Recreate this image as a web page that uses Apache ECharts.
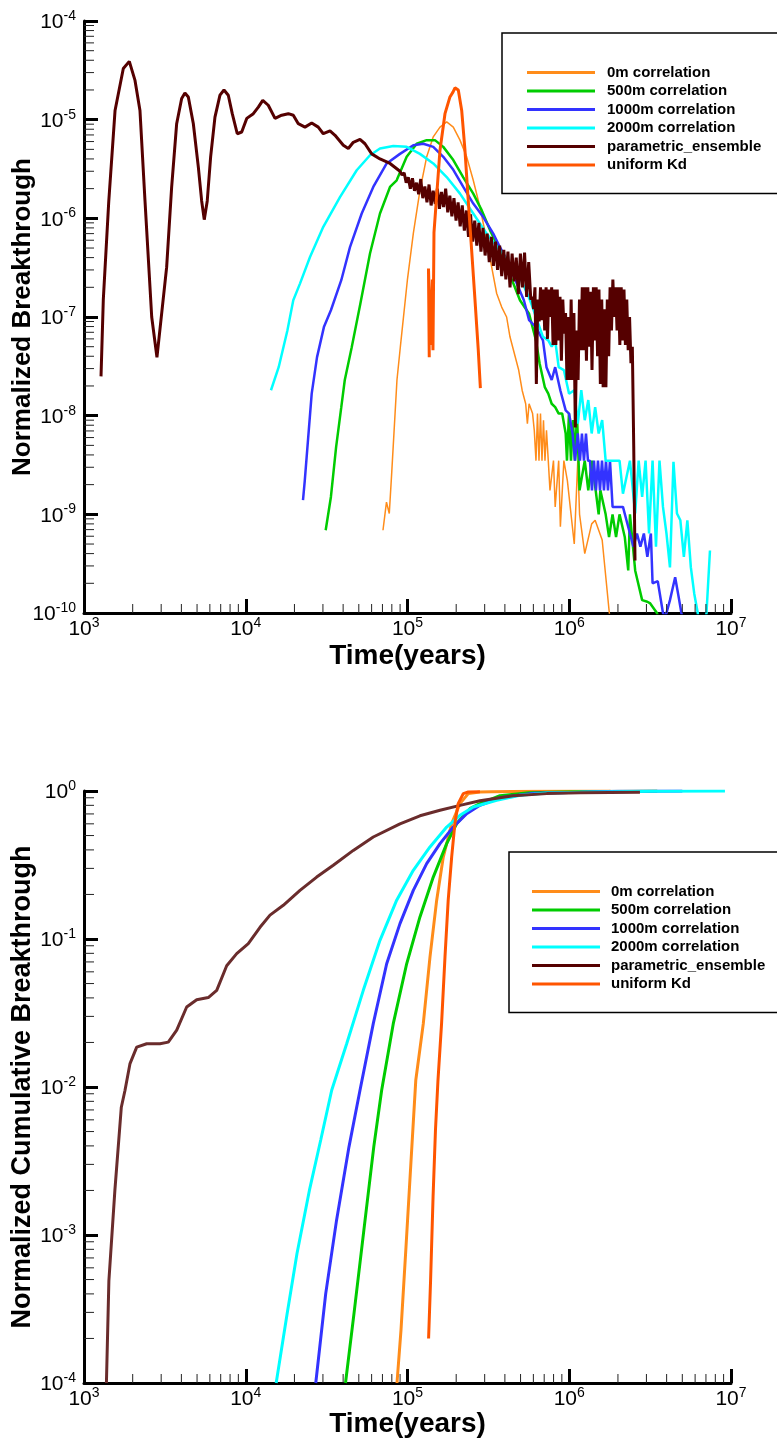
<!DOCTYPE html>
<html><head><meta charset="utf-8">
<script src="https://cdn.jsdelivr.net/npm/echarts@6/dist/echarts.min.js"></script>
<style>html,body{margin:0;padding:0;background:#fff}#c{width:777px;height:1439px}</style>
</head><body><div id="c"></div>
<script>
// ---------- names, colours, ticks ----------
const seriesNames = ['0m correlation','500m correlation','1000m correlation','2000m correlation','parametric_ensemble','uniform Kd'];
const seriesColors = ['#ff8c1a','#00cc00','#3333ff','#00ffff','#550000','#ff5500'];
const xDecades = [3,4,5,6,7];
const topYDecades = [-10,-9,-8,-7,-6,-5,-4];
const botYDecades = [-4,-3,-2,-1,0];
const xTitle = 'Time(years)';
const topYTitle = 'Normalized Breakthrough';
const botYTitle = 'Normalized Cumulative Breakthrough';

// ---------- top panel: breakthrough ----------
const top0m = [[70540,6.9e-10],[74130,1.33e-9],[77150,1.02e-9],[79840,2.6e-9],[86070,2.3e-8],[90340,5.0e-8],[99810,2.36e-7],[108600,7.0e-7],[119400,1.92e-6],[131400,4.2e-6],[144300,6.7e-6],[158800,8.4e-6],[174700,9.5e-6],[191900,8.4e-6],[211100,6.2e-6],[232200,4.2e-6],[255000,2.43e-6],[280500,1.3e-6],[308700,6.0e-7],[331500,3.2e-7],[355900,1.73e-7],[382200,1.26e-7],[410000,1.0e-7],[430000,6.3e-8],[486800,2.9e-8],[511700,1.8e-8],[537800,1.32e-8],[551000,8.3e-9],[564500,1.32e-8],[593300,1.05e-8],[607900,7.1e-9],[622800,3.5e-9],[636300,1.05e-8],[650000,3.5e-9],[664000,1.05e-8],[678400,3.5e-9],[693000,9.0e-9],[707800,3.5e-9],[723200,7.1e-9],[741900,3.5e-9],[760100,1.75e-9],[798900,3.5e-9],[818500,1.19e-9],[860300,3.5e-9],[881300,7.5e-10],[926300,3.5e-9],[973600,2.2e-9],[1074000,5.0e-10],[1129000,3.5e-9],[1158000,1.0e-9],[1247000,4.0e-10],[1376000,8.0e-10],[1446000,8.7e-10],[1598000,5.5e-10],[1763000,1.06e-10],[1850000,5e-11]];

const top500m = [[31200,6.9e-10],[33610,1.5e-9],[36190,4.8e-9],[38960,1.22e-8],[40950,2.3e-8],[45170,4.9e-8],[51140,1.37e-7],[58630,4.4e-7],[67580,1.12e-6],[77950,2.08e-6],[85730,2.43e-6],[98830,4.2e-6],[114000,5.7e-6],[131400,6.2e-6],[147800,6.2e-6],[166400,5.3e-6],[191900,3.9e-6],[221200,2.6e-6],[255000,1.78e-6],[287400,1.21e-6],[323600,7.6e-7],[364100,5.1e-7],[410400,3.2e-7],[450800,2.2e-7],[495900,1.48e-7],[564500,1.08e-7],[622800,5.8e-8],[655500,3.4e-8],[706000,1.95e-8],[741900,1.67e-8],[778700,1.32e-8],[818500,1.22e-8],[860300,1.05e-8],[904200,1.05e-8],[950400,6.6e-9],[968000,3.5e-9],[996000,1.05e-8],[1025000,3.5e-9],[1054000,9.0e-9],[1085000,3.5e-9],[1116000,1.05e-8],[1158000,1.75e-9],[1247000,3.5e-9],[1311000,1.75e-9],[1382000,3.5e-9],[1520000,1.0e-9],[1557000,1.75e-9],[1679000,1.0e-9],[1762000,5.9e-10],[1852000,1.0e-9],[1947000,5.9e-10],[2046000,1.0e-9],[2204000,5.9e-10],[2316000,2.7e-10],[2373000,1.0e-9],[2556000,2.7e-10],[2823000,1.35e-10],[3040000,1.3e-10],[3168000,1.25e-10],[3485000,1.0e-10],[3600000,8e-11]];

const top1000m = [[22590,1.39e-9],[23170,2.2e-9],[25570,1.67e-8],[27570,3.9e-8],[30420,7.9e-8],[33610,1.17e-7],[38960,2.36e-7],[44100,5.1e-7],[52110,1.12e-6],[61430,2.08e-6],[74350,3.6e-6],[89840,4.5e-6],[108600,5.5e-6],[125200,5.7e-6],[144300,5.3e-6],[166400,4.2e-6],[191900,3.1e-6],[221200,2.08e-6],[255000,1.41e-6],[294000,1.03e-6],[339000,7.0e-7],[373000,5.1e-7],[410400,3.8e-7],[450800,2.65e-7],[524200,1.48e-7],[564500,9.3e-8],[622800,7.9e-8],[688000,5.8e-8],[723200,3.1e-8],[778700,2.3e-8],[818500,3.1e-8],[881300,1.8e-8],[950400,1.13e-8],[997400,1.05e-8],[1048000,6.6e-9],[1085000,3.5e-9],[1129000,6.6e-9],[1165000,3.5e-9],[1198000,6.6e-9],[1233000,3.5e-9],[1269000,6.6e-9],[1305000,3.5e-9],[1343000,3.5e-9],[1382000,1.75e-9],[1422000,3.5e-9],[1463000,1.75e-9],[1505000,3.5e-9],[1549000,1.75e-9],[1594000,3.5e-9],[1639000,1.75e-9],[1687000,3.5e-9],[1735000,1.75e-9],[1786000,3.5e-9],[1853000,1.19e-9],[1972000,1.19e-9],[2148000,1.19e-9],[2373000,6.4e-10],[2494000,4.7e-10],[2622000,6.4e-10],[2753000,4.7e-10],[2893000,6.4e-10],[3040000,3.7e-10],[3196000,6.4e-10],[3274000,2.0e-10],[3526000,2.1e-10],[3797000,1.0e-10],[3923000,9e-11],[4194000,1.35e-10],[4516000,2.3e-10],[4747000,1.45e-10],[4991000,9e-11]];

const top2000m = [[14320,1.81e-8],[15980,3.1e-8],[18090,7.3e-8],[19670,1.48e-7],[21640,2.18e-7],[24960,4.06e-7],[30160,8.2e-7],[38240,1.64e-6],[48520,3.07e-6],[58630,4.36e-6],[67580,5.1e-6],[81690,5.4e-6],[98830,5.3e-6],[119400,4.5e-6],[144300,3.6e-6],[174700,2.62e-6],[211100,1.78e-6],[255000,1.12e-6],[308700,7.0e-7],[373000,4.74e-7],[430000,3.48e-7],[495900,2.54e-7],[571900,1.48e-7],[688000,6.3e-8],[741900,5.8e-8],[778700,5.0e-8],[818500,5.8e-8],[860300,3.1e-8],[926300,2.9e-8],[997400,1.67e-8],[1074000,1.81e-8],[1129000,8.3e-9],[1187000,1.81e-8],[1247000,9.0e-9],[1311000,1.44e-8],[1376000,6.6e-9],[1446000,1.22e-8],[1520000,6.6e-9],[1598000,9.0e-9],[1679000,3.5e-9],[1853000,3.5e-9],[2046000,3.5e-9],[2148000,1.62e-9],[2373000,3.5e-9],[2556000,1.02e-9],[2686000,3.5e-9],[2823000,1.5e-9],[2964000,3.5e-9],[3114000,6.4e-10],[3274000,3.5e-9],[3437000,4.7e-10],[3613000,3.5e-9],[3797000,1.19e-9],[3990000,6.4e-10],[4194000,2.9e-10],[4409000,3.4e-9],[4634000,1.02e-9],[4863000,8.7e-10],[5112000,3.7e-10],[5373000,8.7e-10],[5647000,2.9e-10],[5927000,1.57e-10],[6231000,1.0e-10],[6600000,3e-11],[7053000,1.0e-10],[7413000,4.3e-10]];

const topParam = [[1274,2.5e-8],[1316,1.48e-7],[1422,1.47e-6],[1556,1.24e-5],[1750,3.3e-5],[1906,3.9e-5],[2067,2.5e-5],[2218,1.24e-5],[2382,1.52e-6],[2622,1.0e-7],[2825,3.9e-8],[3243,3.2e-7],[3483,2.08e-6],[3740,9.1e-6],[4016,1.64e-5],[4207,1.86e-5],[4415,1.7e-5],[4742,9.1e-6],[5092,3.3e-6],[5339,1.5e-6],[5539,9.7e-7],[5780,1.5e-6],[6066,4.2e-6],[6451,1.06e-5],[6928,1.77e-5],[7336,2.0e-5],[7800,1.77e-5],[8252,1.15e-5],[8863,7.2e-6],[9441,7.5e-6],[10140,1.03e-5],[11140,1.15e-5],[11960,1.34e-5],[12740,1.57e-5],[13780,1.4e-5],[15170,1.03e-5],[16680,1.11e-5],[18330,1.15e-5],[19680,1.11e-5],[21130,9.1e-6],[23240,8.4e-6],[25570,9.25e-6],[28070,8.4e-6],[30150,7.2e-6],[33190,7.7e-6],[35640,6.95e-6],[40100,5.5e-6],[43050,5.1e-6],[46240,5.9e-6],[50840,6.3e-6],[54590,5.7e-6],[60080,4.5e-6],[67610,4.0e-6],[77960,3.6e-6],
[89840,3.0e-6],[92535,2.75e-6],[95310,2.9e-6],[98170,2.3e-6],[101110,2.6e-6],[104150,2.0e-6],[107270,2.55e-6],[110490,1.9e-6],[113800,2.3e-6],[117220,1.75e-6],[120740,2.5e-6],[124360,1.6e-6],[128090,2.1e-6],[131930,1.45e-6],[135890,2.2e-6],[139970,1.35e-6],[144170,1.9e-6],[148490,1.4e-6],[152950,2.0e-6],[157540,1.25e-6],[162260,1.85e-6],[167130,1.3e-6],[172140,2.0e-6],[177310,1.15e-6],[182630,1.7e-6],[188110,1.05e-6],[193750,1.6e-6],[199560,9.5e-7],[205550,1.45e-6],[211710,8.3e-7],[218070,1.35e-6],[224610,7.5e-7],[231350,1.2e-6],[238290,6.5e-7],[245430,1.1e-6],[252800,5.8e-7],[260380,9.5e-7],[268190,5.3e-7],[276240,9.0e-7],[284530,4.6e-7],[293060,8.0e-7],[301850,4.2e-7],[310910,7.0e-7],[320240,3.6e-7],[329840,6.5e-7],[339740,3.3e-7],[349930,5.8e-7],[360430,3.0e-7],[371240,5.3e-7],[382380,2.6e-7],[393850,4.8e-7],[405660,2.4e-7],[417830,4.6e-7],[430370,2.0e-7],[443280,4.4e-7],[456580,2.3e-7],[470280,4.0e-7],[484390,1.7e-7],[498920,4.4e-7],[513890,2.0e-7],[529300,4.5e-7],[545180,1.6e-7],[561540,3.6e-7],[578390,1.5e-7],
[590000,1.6e-7],[601800,1.2e-7],[613800,2.0e-7],[626100,2.1e-8],[638600,1.5e-7],[651400,9.0e-8],[664400,2.0e-7],[677700,9.3e-8],[691300,1.9e-7],[705100,7.3e-8],[719200,2.0e-7],[733600,6.0e-8],[748300,1.9e-7],[763200,1.0e-7],[778500,2.0e-7],[794100,5.2e-8],[810000,1.9e-7],[826200,5.2e-8],[842700,1.9e-7],[859500,5.8e-8],[876700,1.6e-7],[894300,3.6e-8],[912200,1.5e-7],[930400,6.8e-8],[949000,1.1e-7],[968000,2.3e-8],[987300,1.0e-7],[1007100,2.3e-8],[1027200,1.5e-7],[1047800,2.3e-8],[1068700,1.1e-7],[1090100,7.6e-9],[1111900,7.3e-8],[1134100,2.3e-8],[1156800,1.5e-7],[1179900,4.6e-8],[1203500,2.0e-7],[1227600,4.6e-8],[1252200,2.0e-7],[1277200,3.6e-8],[1302700,2.0e-7],[1328800,5.0e-8],[1355400,1.8e-7],[1382500,2.9e-8],[1410100,2.0e-7],[1438300,5.8e-8],[1467100,2.0e-7],[1496400,4.0e-8],[1526400,1.9e-7],[1556900,2.1e-8],[1588000,1.5e-7],[1619800,1.94e-8],[1652200,1.2e-7],[1685200,1.94e-8],[1718900,1.5e-7],[1753300,4.0e-8],[1788400,2.0e-7],[1824100,7.3e-8],[1860600,2.4e-7],[1897800,1.0e-7],[1935800,2.0e-7],[1974500,7.3e-8],[2014000,2.0e-7],[2054300,5.2e-8],[2095400,2.0e-7],[2137300,5.8e-8],[2180000,1.9e-7],[2223600,5.2e-8],[2268100,1.5e-7],[2313500,4.6e-8],[2359700,1.0e-7],[2406900,3.4e-8],[2455100,5.0e-8],[2504200,4.8e-9],[2550000,3.4e-10]];

const topUniform = [[136300,3.9e-8],[134800,3.1e-7],[138700,5.2e-8],[142500,2.4e-7],[143700,4.6e-8],[145800,7.2e-7],[158800,4.9e-6],[170500,1.15e-5],[183000,1.7e-5],[191000,1.9e-5],[196600,2.1e-5],[206100,2.0e-5],[216300,1.24e-5],[226600,4.9e-6],[237500,1.5e-6],[249300,4.7e-7],[261400,1.48e-7],[273900,4.6e-8],[282200,1.9e-8]];

// ---------- bottom panel: cumulative breakthrough ----------
const cum0m = [[86100,1.0e-4],[91130,2.27e-4],[97870,8.3e-4],[104900,3.03e-3],[112500,1.11e-2],[125200,2.68e-2],[137700,7.55e-2],[151500,0.183],[166400,0.358],[187500,0.602],[211100,0.822],[237500,0.96],[280500,0.984],[330000,0.99],[600000,0.997],[1800000,1.0]];
const cum500m = [[41370,1.0e-4],[46680,2.94e-4],[53740,1.08e-3],[61870,3.94e-3],[69220,9.5e-3],[81660,2.68e-2],[98830,6.8e-2],[119400,0.141],[144300,0.262],[174700,0.441],[201400,0.602],[243300,0.76],[280500,0.822],[373000,0.93],[560000,0.975],[1165000,0.99],[3500000,1.0]];
const cum1000m = [[27090,1.0e-4],[31200,4.0e-4],[36430,1.26e-3],[43470,3.94e-3],[50850,9.5e-3],[61430,2.68e-2],[74350,6.8e-2],[89840,0.127],[108600,0.213],[131400,0.323],[158800,0.441],[191900,0.571],[232200,0.703],[280500,0.8],[373000,0.9],[599300,0.965],[1165000,0.98],[2000000,0.995],[5000000,1.0]];
const cum2000m = [[15420,1.0e-4],[18020,2.94e-4],[20740,7.5e-4],[24740,2.0e-3],[29100,4.4e-3],[33990,9.5e-3],[42070,1.96e-2],[53290,4.5e-2],[67580,9.8e-2],[85730,0.183],[108600,0.291],[137700,0.419],[174700,0.571],[211100,0.685],[255000,0.78],[355900,0.865],[495900,0.936],[725200,0.969],[1165000,0.98],[3155000,0.995],[9175000,1.0]];
const cumParam = [[1376,1.0e-4],[1425,4.9e-4],[1552,2.0e-3],[1701,7.3e-3],[1793,9.5e-3],[1925,1.44e-2],[2118,1.86e-2],[2441,1.96e-2],[2950,1.96e-2],[3320,2.01e-2],[3743,2.42e-2],[4313,3.47e-2],[4974,3.89e-2],[5867,4.02e-2],[6613,4.5e-2],[7623,6.6e-2],[8790,7.96e-2],[10370,9.3e-2],[12250,0.12],[14120,0.145],[17060,0.169],[21640,0.213],[27450,0.262],[34760,0.315],[46220,0.397],[61430,0.489],[89840,0.6],[119400,0.68],[158800,0.741],[211100,0.8],[280500,0.86],[450800,0.93],[725200,0.96],[1165000,0.975],[2736000,0.98]];
const cumUniform = [[135000,2.0e-4],[138900,4.94e-4],[143900,1.81e-3],[148900,5.1e-3],[154300,1.11e-2],[162400,2.68e-2],[170500,7.55e-2],[178500,0.183],[187500,0.358],[196300,0.602],[205800,0.822],[221200,0.96],[237500,0.984],[280500,0.99]];

// ---------- chart ----------
const FONT = '"Liberation Sans", Arial, Helvetica, sans-serif';
const chart = echarts.init(document.getElementById('c'), null, {renderer: 'canvas'});

function expLabel(v) {
  const e = Math.round(Math.log10(v));
  return '{b|10}{s|' + e + '}';
}
const labelRich = {
  b: {fontFamily: FONT, fontSize: 21, color: '#000', lineHeight: 24, verticalAlign: 'bottom'},
  s: {fontFamily: FONT, fontSize: 14, color: '#000', verticalAlign: 'top'}
};
function nameStyle(size) { return {fontFamily: FONT, fontWeight: 'bold', fontSize: size, color: '#000'}; }

function makeXAxis(gi, nameGap) {
  return {
    type: 'log', logBase: 10, gridIndex: gi,
    min: Math.pow(10, xDecades[0]), max: Math.pow(10, xDecades[xDecades.length - 1]),
    splitNumber: xDecades.length - 1,
    axisLine: {show: true, onZero: false, lineStyle: {color: '#000', width: 3}},
    axisTick: {show: true, inside: true, length: 14, lineStyle: {color: '#000', width: 3}},
    minorTick: {show: false}, splitLine: {show: false},
    axisLabel: {formatter: expLabel, rich: labelRich, margin: 3},
    name: xTitle, nameLocation: 'middle', nameGap: nameGap, nameMoveOverlap: false,
    nameTextStyle: nameStyle(28)
  };
}
function makeYAxis(gi, decades, title, size) {
  return {
    type: 'log', logBase: 10, gridIndex: gi,
    min: Math.pow(10, decades[0]), max: Math.pow(10, decades[decades.length - 1]),
    splitNumber: decades.length - 1,
    axisLine: {show: true, onZero: false, lineStyle: {color: '#000', width: 3}},
    axisTick: {show: true, inside: true, length: 14, lineStyle: {color: '#000', width: 3}},
    minorTick: {show: false}, splitLine: {show: false},
    axisLabel: {formatter: expLabel, rich: labelRich, margin: 8},
    name: title, nameLocation: 'middle', nameGap: 48, nameMoveOverlap: false,
    nameTextStyle: nameStyle(size)
  };
}

function minorTickData(yDecades) {
  const out = [];
  const xMin = Math.pow(10, xDecades[0]);
  const yMin = Math.pow(10, yDecades[0]);
  for (let i = 0; i < xDecades.length - 1; i++)
    for (let m = 2; m <= 9; m++) out.push([m * Math.pow(10, xDecades[i]), yMin, 0]);
  for (let i = 0; i < yDecades.length - 1; i++)
    for (let m = 2; m <= 9; m++) out.push([xMin, m * Math.pow(10, yDecades[i]), 1]);
  return out;
}
function minorTickSeries(gi, yDecades) {
  return {
    type: 'custom', xAxisIndex: gi, yAxisIndex: gi, silent: true, z: 5,
    data: minorTickData(yDecades), encode: {x: 0, y: 1},
    renderItem: function (params, api) {
      const p = api.coord([api.value(0), api.value(1)]);
      const kind = api.value(2);
      const shape = kind === 0
        ? {x1: p[0], y1: p[1], x2: p[0], y2: p[1] - 9}
        : {x1: p[0], y1: p[1], x2: p[0] + 10, y2: p[1]};
      return {type: 'line', shape: shape, style: {stroke: '#222', lineWidth: 1}};
    }
  };
}

function lineSeries(idx, data, gi, width, color) {
  const c = color || seriesColors[idx];
  return {
    type: 'line', name: seriesNames[idx], data: data,
    xAxisIndex: gi, yAxisIndex: gi,
    symbol: 'none', showSymbol: false, smooth: false, clip: true,
    lineStyle: {color: c, width: width}, itemStyle: {color: c}, color: c,
    z: 2 + idx * 0.1
  };
}

function legendFor(left, top, padLeft, textPad) {
  return {
    data: seriesNames, orient: 'vertical', left: left, top: top,
    icon: 'rect', itemWidth: 68, itemHeight: 3, itemGap: 3.5,
    padding: [32, 40, 21, padLeft],
    borderColor: '#000', borderWidth: 1.5, backgroundColor: '#fff',
    selectedMode: false, z: 20,
    textStyle: {fontFamily: FONT, fontWeight: 'bold', fontSize: 15, color: '#000', padding: [0, 0, 0, textPad]}
  };
}

const option = {
  animation: false,
  backgroundColor: '#fff',
  grid: [
    {left: 84, top: 21, width: 647, height: 592, outerBoundsMode: 'none', containLabel: false},
    {left: 84, top: 791, width: 647, height: 592, outerBoundsMode: 'none', containLabel: false}
  ],
  xAxis: [makeXAxis(0, 29), makeXAxis(1, 27)],
  yAxis: [makeYAxis(0, topYDecades, topYTitle, 26), makeYAxis(1, botYDecades, botYTitle, 27)],
  legend: [legendFor(502, 33, 25, 7), legendFor(509, 852, 23, 6)],
  series: [
    lineSeries(0, top0m, 0, 1.5),
    lineSeries(1, top500m, 0, 2.5),
    lineSeries(2, top1000m, 0, 2.5),
    lineSeries(3, top2000m, 0, 2.5),
    lineSeries(4, topParam, 0, 3),
    lineSeries(5, topUniform, 0, 3),
    lineSeries(0, cum0m, 1, 3),
    lineSeries(1, cum500m, 1, 3),
    lineSeries(2, cum1000m, 1, 3),
    lineSeries(3, cum2000m, 1, 3),
    lineSeries(4, cumParam, 1, 3, '#6a2c2c'),
    lineSeries(5, cumUniform, 1, 3),
    minorTickSeries(0, topYDecades),
    minorTickSeries(1, botYDecades)
  ]
};
chart.setOption(option);
</script>
</body></html>
